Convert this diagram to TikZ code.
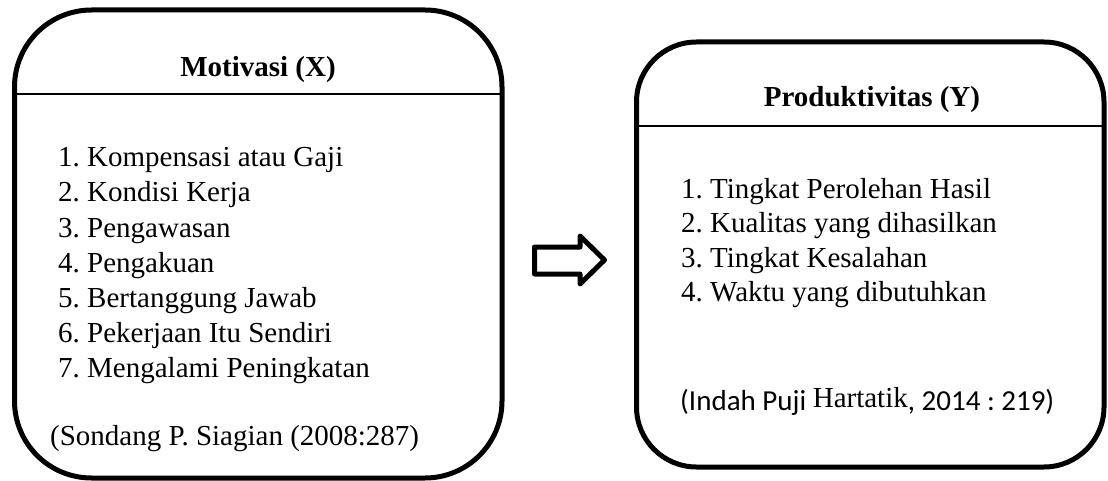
\documentclass[tikz,border=0pt]{standalone}
\usepackage{fontspec}
\setmainfont{Liberation Serif}
\newfontfamily\calibri{Carlito}
\frenchspacing
\begin{document}
\begin{tikzpicture}[x=1pt,y=-1pt,
  frame/.style={draw=black, line width=5pt},
  divider/.style={draw=black, line width=1.8pt},
  txt/.style={anchor=base west, inner sep=0pt, font=\fontsize{29}{34}\selectfont\frenchspacing},
  head/.style={anchor=base, inner sep=0pt, font=\fontsize{29}{34}\selectfont\bfseries}]
\useasboundingbox (0,0) rectangle (1108,481);
% left box
\draw[frame, rounded corners=77pt] (14.5,10) rectangle (502,478);
\draw[divider] (14.5,94) -- (502,94);
\node[head] (hx) at (258,77) {Motivasi (X)};
\node[txt] (x1) at (58,167) {1. Kompensasi atau Gaji};
\node[txt] (x2) at (58,202) {2. Kondisi Kerja};
\node[txt] (x3) at (58,237) {3. Pengawasan};
\node[txt] (x4) at (58,272) {4. Pengakuan};
\node[txt] (x5) at (58,307) {5. Bertanggung Jawab};
\node[txt] (x6) at (58,342) {6. Pekerjaan Itu Sendiri};
\node[txt] (x7) at (58,377) {7. Mengalami Peningkatan};
\node[txt] (cx) at (50,445) {(Sondang P. Siagian (2008:287)};
% arrow
\draw[frame, line join=round] (534.5,247) -- (580,247) -- (580,236) -- (604.5,260) -- (580,284) -- (580,274) -- (534.5,274) -- cycle;
% right box
\draw[frame, rounded corners=60pt] (636.5,42) rectangle (1104,467);
\draw[divider] (636.5,126) -- (1104,126);
\node[head] (hy) at (872,107) {Produktivitas (Y)};
\node[txt] (y1) at (681,199) {1. Tingkat Perolehan Hasil};
\node[txt] (y2) at (681,233) {2. Kualitas yang dihasilkan};
\node[txt] (y3) at (681,267) {3. Tingkat Kesalahan};
\node[txt] (y4) at (681,301) {4. Waktu yang dibutuhkan};
\node[txt] (cy) at (680,410) {{\calibri (Indah Puji }\raisebox{3pt}{Hartatik}{\calibri , 2014 : 219)}};
\end{tikzpicture}
\end{document}
